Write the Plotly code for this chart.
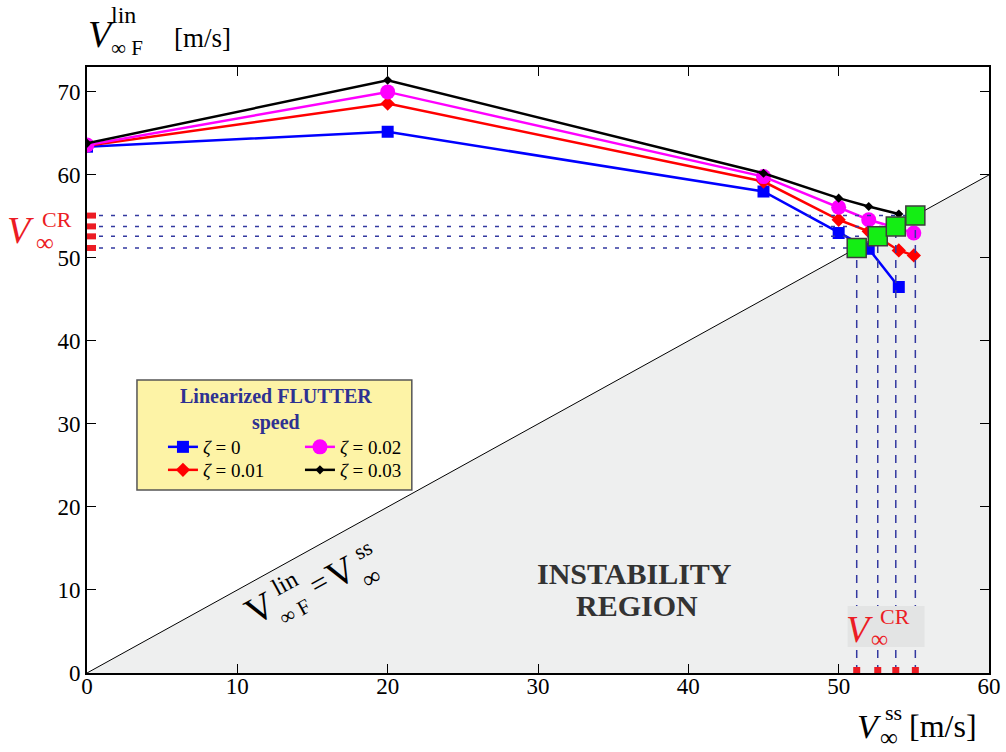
import plotly.graph_objects as go

# Steady-state speed at which each linearized flutter speed was computed [m/s]
v_ss_zeta0 = [0, 20, 45, 50, 52, 54]
v_ss_zeta001 = [0, 20, 45, 50, 52, 54, 55]
v_ss_zeta002 = [0, 20, 45, 50, 52, 55]
v_ss_zeta003 = [0, 20, 45, 50, 52, 54]

# Linearized flutter speed [m/s]
v_f_zeta0 = [63.4, 65.2, 58.0, 53.0, 51.1, 46.5]
v_f_zeta001 = [63.5, 68.6, 59.2, 54.6, 53.2, 50.9, 50.3]
v_f_zeta002 = [63.6, 70.0, 59.8, 56.1, 54.6, 53.0]
v_f_zeta003 = [63.8, 71.4, 60.2, 57.2, 56.2, 55.3]

# Critical speeds (intersection with V_F = V_ss), one per damping ratio
v_cr = [51.2, 52.6, 53.8, 55.1]

# Boundary of the instability region (V_F = V_ss)
diag_x = [0, 60]
diag_y = [0, 60]

x_ticks = [0, 10, 20, 30, 40, 50, 60]
y_ticks = [0, 10, 20, 30, 40, 50, 60, 70]

W, H = 1006, 752
ML, MR, MT, MB = 87, 16.5, 67, 79
XR = (0, 60)
YR = (0, 73)
PW = W - ML - MR
PH = H - MT - MB

SERIF = "Liberation Serif"
RED = "#ec1c24"
NAVY = "#2e3192"
DASH_COL = "#3338a0"
NB = "\u00a0"


def dx(px):
    return XR[0] + (px - ML) / PW * (XR[1] - XR[0])


def dy(py):
    return YR[0] + (MT + PH - py) / PH * (YR[1] - YR[0])


def px_x(px):
    return (px - ML) / PW


def px_y(py):
    return (MT + PH - py) / PH


fig = go.Figure()

# instability region below the V_F = V_ss line
fig.add_trace(go.Scatter(
    x=diag_x, y=diag_y, mode="lines", fill="tozeroy",
    fillcolor="#eeefef", line=dict(color="black", width=1),
    showlegend=False, hoverinfo="skip"))

series = [
    ("0", v_ss_zeta0, v_f_zeta0, "#0000ff", "square", 12, "legend"),
    ("0.01", v_ss_zeta001, v_f_zeta001, "#ff0000", "diamond", 11, "legend2"),
    ("0.02", v_ss_zeta002, v_f_zeta002, "#ff00ff", "circle", 15, "legend"),
    ("0.03", v_ss_zeta003, v_f_zeta003, "#000000", "diamond", 7, "legend2"),
]
for zeta, xs, ys, col, sym, size, leg in series:
    fig.add_trace(go.Scatter(
        x=xs, y=ys, mode="lines+markers",
        name="<i>ζ</i>" + NB + "=" + NB + zeta,
        line=dict(color=col, width=2.5),
        marker=dict(symbol=sym, size=size, color=col, line=dict(width=0)),
        legend=leg))

# dashed guides from each critical point to both axes
for v in v_cr:
    fig.add_trace(go.Scatter(
        x=[0, v], y=[v, v], mode="lines",
        line=dict(color=DASH_COL, width=1.5, dash="4px,8px"),
        showlegend=False, hoverinfo="skip"))
    fig.add_trace(go.Scatter(
        x=[v, v], y=[0, v], mode="lines",
        line=dict(color=DASH_COL, width=1.5, dash="8px,7px"),
        showlegend=False, hoverinfo="skip"))

# critical points on the V_F = V_ss line
fig.add_trace(go.Scatter(
    x=v_cr, y=v_cr, mode="markers",
    marker=dict(symbol="square", size=19, color="#14ee14",
                line=dict(color="#3c3c3c", width=1.5)),
    showlegend=False))

shapes = []
# red ticks marking the critical speeds on both axes
for v in v_cr:
    shapes.append(dict(type="rect", xref="x", yref="y", layer="above",
                       xsizemode="pixel", xanchor=0, x0=-7, x1=9,
                       ysizemode="pixel", yanchor=v, y0=-3, y1=3,
                       fillcolor=RED, line=dict(width=0)))
    shapes.append(dict(type="rect", xref="x", yref="y", layer="above",
                       xsizemode="pixel", xanchor=v, x0=-3.5, x1=3.5,
                       ysizemode="pixel", yanchor=0, y0=-6, y1=6,
                       fillcolor=RED, line=dict(width=0)))

# label box for the critical speeds on the x axis
shapes.append(dict(type="rect", xref="x", yref="y", layer="above",
                   x0=dx(848), x1=dx(925), y0=dy(647), y1=dy(606),
                   fillcolor="#e3e4e4", line=dict(width=0)))

# legend frame
shapes.append(dict(type="rect", xref="paper", yref="paper", layer="above",
                   x0=px_x(137), x1=px_x(412), y0=px_y(490), y1=px_y(380),
                   fillcolor="#fdf3a6", line=dict(color="#555555", width=1.5)))

annotations = []


def txt(text, px, py, size, color="black", angle=0, bold=False):
    if bold:
        text = "<b>" + text + "</b>"
    annotations.append(dict(
        text=text, x=px_x(px), y=px_y(py), xref="paper", yref="paper",
        xanchor="center", yanchor="middle", showarrow=False,
        textangle=angle, font=dict(family=SERIF, size=size, color=color)))


# y-axis title
txt("<i>V</i>", 102, 34, 38)
txt("lin", 124, 15, 24)
txt("∞ F", 127, 48, 21)
txt("[m/s]", 203, 38, 27)

# x-axis title
txt("<i>V</i>", 870, 726, 34)
txt("ss", 894, 712, 22)
txt("∞", 889, 737, 25)
txt("[m/s]", 943, 726, 32)

# critical speed labels
txt("<i>V</i>", 20, 230, 38, RED)
txt("CR", 57, 219, 22, RED)
txt("∞", 45, 243, 25, RED)
txt("<i>V</i>", 860, 629, 38, RED)
txt("CR", 895, 616, 22, RED)
txt("∞", 880, 639, 24, RED)

# V_F = V_ss along the diagonal
ang = -28.9
txt("V", 260, 608, 38, angle=ang)
txt("lin", 285, 583, 24, angle=ang)
txt("∞ F", 295, 612, 21, angle=ang)
txt("=", 319, 582, 30, angle=ang)
txt("V", 341, 572, 38, angle=ang)
txt("ss", 363, 549, 22, angle=ang)
txt("∞", 371, 577, 25, angle=ang)

# region label
txt("INSTABILITY", 635, 573, 30, "#333333", bold=True)
txt("REGION", 637, 605, 30, "#333333", bold=True)

# legend title
annotations.append(dict(
    text="<b>Linearized FLUTTER<br>speed</b>", x=px_x(276), y=px_y(409),
    xref="paper", yref="paper", xanchor="center", yanchor="middle",
    showarrow=False, font=dict(family=SERIF, size=20, color=NAVY)))

legend_common = dict(
    xanchor="left", yanchor="middle", bgcolor="rgba(0,0,0,0)", borderwidth=0,
    font=dict(family=SERIF, size=19, color="black"),
    orientation="h", entrywidth=92, entrywidthmode="pixels")

axis_common = dict(
    showline=True, linecolor="black", linewidth=2, mirror="ticks",
    ticks="inside", ticklen=9, tickwidth=1, tickcolor="black",
    showgrid=False, zeroline=False, automargin=False,
    tickfont=dict(family=SERIF, size=23, color="black"))

fig.update_layout(
    width=W, height=H,
    margin=dict(l=ML, r=MR, t=MT, b=MB, autoexpand=False),
    paper_bgcolor="white", plot_bgcolor="white",
    xaxis=dict(range=list(XR), tickvals=x_ticks, ticklabelstandoff=-9,
               ticklabeloverflow="allow", **axis_common),
    yaxis=dict(range=list(YR), tickvals=y_ticks, **axis_common),
    legend=dict(x=px_x(163), y=px_y(447), **legend_common),
    legend2=dict(x=px_x(163), y=px_y(470), **legend_common),
    shapes=shapes,
    annotations=annotations,
)

fig.write_html("out.html")
